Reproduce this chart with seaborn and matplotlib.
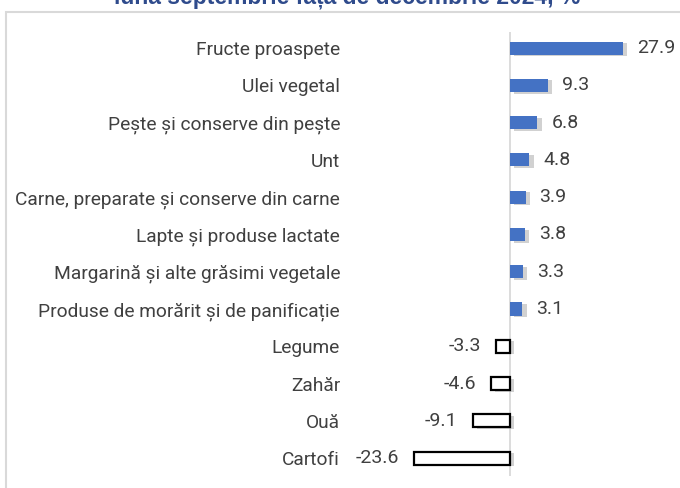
import numpy as np
import pandas as pd
import matplotlib
matplotlib.use('Agg')
import matplotlib.pyplot as plt
import matplotlib.patheffects as pe
from matplotlib.patches import Rectangle
import seaborn as sns

CATEGORIES = ['Fructe proaspete', 'Ulei vegetal', 'Pește și conserve din pește', 'Unt',
              'Carne, preparate și conserve din carne', 'Lapte și produse lactate',
              'Margarină și alte grăsimi vegetale', 'Produse de morărit și de panificație',
              'Legume', 'Zahăr', 'Ouă', 'Cartofi']
VALUES = [27.9, 9.3, 6.8, 4.8, 3.9, 3.8, 3.3, 3.1, -3.3, -4.6, -9.1, -23.6]
TITLE = 'luna septembrie față de decembrie 2024, %'

sns.set_style('white')
plt.rcParams['font.family'] = ['Roboto', 'DejaVu Sans']

df = pd.DataFrame({'cat': CATEGORIES, 'val': VALUES})

fig = plt.figure(figsize=(6.8, 4.88), dpi=100)
W, H = 680, 488
ax = fig.add_axes([345 / W, 1 - 476 / H, 1 - 345 / W, (476 - 32) / H])

sns.barplot(data=df, x='val', y='cat', orient='h', width=0.35, ax=ax, color='#4472C4')

shadow = [pe.SimplePatchShadow(offset=(3, -1.2), shadow_rgbFace='#8c8c8c', alpha=0.4), pe.Normal()]
for p, v in zip(ax.patches, VALUES):
    if v >= 0:
        p.set_facecolor('#4472C4')
        p.set_edgecolor('none')
    else:
        p.set_facecolor('white')
        p.set_edgecolor('black')
        p.set_linewidth(1.6)
    p.set_path_effects(shadow)

ax.axvline(0, color='#d9d9d9', lw=1.3, zorder=0)

for i, v in enumerate(VALUES):
    ax.annotate(f'{v:.1f}', xy=(v, i), xytext=(10 if v >= 0 else -11, 0), textcoords='offset points',
                ha='left' if v >= 0 else 'right', va='center', fontsize=14, color='#404040')

ax.set_xlim(-40.6, 41.9)
ax.set_ylim(11.48, -0.43)
ax.set_xlabel('')
ax.set_ylabel('')
ax.set_xticks([])
ax.tick_params(axis='y', length=0, pad=3.6, labelsize=13.8, labelcolor='#404040')
for s in ax.spines.values():
    s.set_visible(False)

# frame of the chart area
fig.patches.append(Rectangle((6 / W, -0.1), 1.2, 1.1 - 12 / H, transform=fig.transFigure,
                             fill=False, edgecolor='#d9d9d9', lw=1.5, clip_on=False))

fig.text(0.51, 1 - 3.5 / H, TITLE, ha='center', va='baseline', fontsize=16.5,
         fontweight='bold', color='#2F4B8C', family=['Liberation Sans', 'DejaVu Sans'])

fig.savefig('out.png', dpi=100)
